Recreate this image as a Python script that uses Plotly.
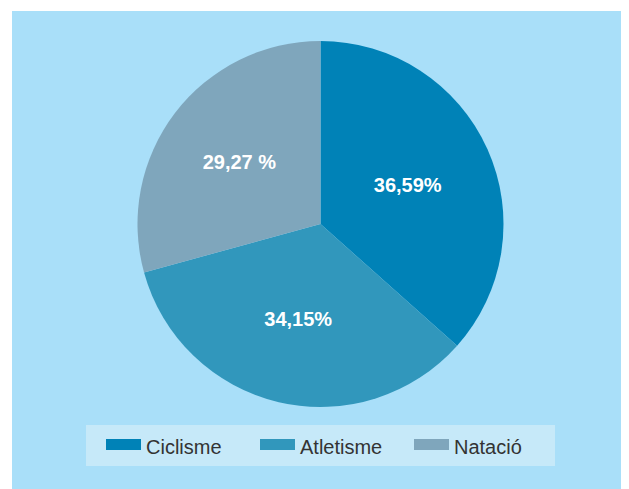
import plotly.graph_objects as go

categories = ["Ciclisme", "Atletisme", "Natació"]
values = [36.59, 34.15, 29.27]
value_labels = ["36,59%", "34,15%", "29,27 %"]
colors = ["#0082b7", "#3197bc", "#7fa6bc"]

# page has an 8px default body margin; figure fills the rest of the window
OFF = 8
W, H = 629 - OFF, 489 - OFF
BG = "#a9dff9"
LEG_BG = "#c6e9f9"


def px(x):
    return (x - OFF) / W


def py(y):
    return 1 - (y - OFF) / H


cx, cy, R = 320.5, 224, 183

fig = go.Figure()
fig.add_trace(go.Pie(
    labels=categories,
    values=values,
    text=value_labels,
    textinfo="text",
    textposition="inside",
    insidetextorientation="horizontal",
    textfont=dict(family="Liberation Sans, Arial, sans-serif", size=20, color="white", weight="bold"),
    marker=dict(colors=colors, line=dict(width=0)),
    sort=False,
    direction="clockwise",
    rotation=0,
    showlegend=False,
    hoverinfo="label+text",
    domain=dict(x=[px(cx - R), px(cx + R)], y=[py(cy + R), py(cy - R)]),
))

for name, col in zip(categories, colors):
    fig.add_trace(go.Scatter(
        x=[None], y=[None], mode="lines", name=name,
        fill="toself", fillcolor=col,
        line=dict(color=col, width=10),
    ))

fig.update_layout(
    width=W, height=H,
    margin=dict(l=0, r=0, t=0, b=0),
    paper_bgcolor="white",
    plot_bgcolor="rgba(0,0,0,0)",
    xaxis=dict(visible=False),
    yaxis=dict(visible=False),
    shapes=[
        dict(type="rect", xref="paper", yref="paper",
             x0=px(12), x1=1, y0=0, y1=py(11),
             fillcolor=BG, line=dict(width=0), layer="below"),
        dict(type="rect", xref="paper", yref="paper",
             x0=px(86), x1=px(555), y0=py(466), y1=py(425),
             fillcolor=LEG_BG, line=dict(width=0), layer="below"),
    ],
    legend=dict(
        orientation="h",
        x=px(101), y=py(446), xanchor="left", yanchor="middle",
        bgcolor="rgba(0,0,0,0)",
        borderwidth=0,
        font=dict(family="Liberation Sans, Arial, sans-serif", size=20, color="#333333"),
        itemwidth=35,
        entrywidth=104,
    ),
)

fig.write_html("out.html")
